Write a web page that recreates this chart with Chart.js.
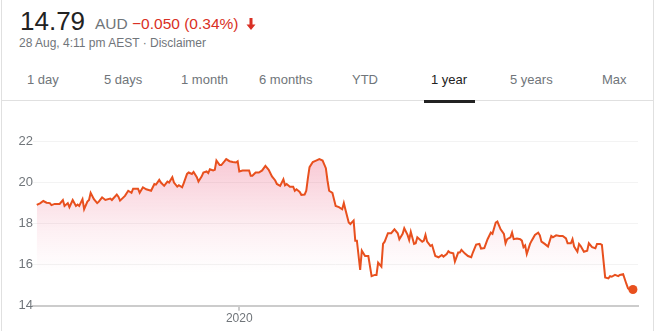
<!DOCTYPE html>
<html>
<head>
<meta charset="utf-8">
<script src="https://cdn.jsdelivr.net/npm/chart.js@4"></script>
<style>
  body { margin: 0; background: #fff; font-family: Arial, "Liberation Sans", sans-serif; }
  #wrap { position: relative; width: 658px; height: 331px; overflow: hidden; }
  .t { position: absolute; white-space: nowrap; }
  .price { left: 20px; top: 8px; font-size: 26px; line-height: 26px; color: #222; }
  .chg { left: 95px; top: 16px; font-size: 15.5px; line-height: 15.5px; color: #70757a; }
  .chg .red { color: #d93025; }
  .date { left: 19px; top: 36.5px; font-size: 12px; line-height: 12px; color: #70757a; }
  .tab { top: 72.5px; font-size: 13px; line-height: 13px; color: #70757a; }
  .tab.on { color: #222; }
  .vline { position: absolute; top: 0; width: 1px; height: 331px; background: #e0e0e0; }
  #sep { position: absolute; left: 2px; top: 100px; width: 651px; height: 1px; background: #e0e0e0; }
  #bar { position: absolute; left: 424px; top: 100px; width: 51px; height: 3px; background: #222; }
  #arrow { position: absolute; left: 245px; top: 18px; }
  canvas { position: absolute; left: 0; top: 110px; }
</style>
</head>
<body>
<div id="wrap">
  <div class="vline" style="left:1px"></div>
  <div class="vline" style="left:653px"></div>
  <div class="t price">14.79</div>
  <div class="t chg">AUD <span class="red">−0.050 (0.34%)</span></div>
  <svg id="arrow" width="12" height="12" viewBox="0 0 12 12">
    <path d="M4.5 0h3v6.5h3L6 12 1.5 6.5h3z" fill="#d93025"/>
  </svg>
  <div class="t date">28 Aug, 4:11 pm AEST · Disclaimer</div>
  <div id="tabs"></div>
  <div id="sep"></div>
  <div id="bar"></div>
  <canvas id="c" width="658" height="221"></canvas>
</div>
<script>
// range tabs
const tabNames = ["1 day", "5 days", "1 month", "6 months", "YTD", "1 year", "5 years", "Max"];
const tabLeft = [27, 104, 181, 259, 352, 431, 510, 602];
const activeTab = "1 year";

// days since 28 Aug 2019, and closing price (AUD)
const days = [
  0, 2, 4, 6, 8, 9, 11, 14, 16, 17, 19, 20, 22, 24, 25, 26, 28, 29, 31, 32,
  33, 35, 37, 38, 40, 42, 45, 46, 49, 50, 51, 54, 56, 58, 59, 62, 63, 65, 67, 70,
  72, 73, 75, 76, 78, 80, 81, 83, 84, 86, 87, 89, 90, 92, 93, 95, 96, 98, 99, 101,
  102, 104, 105, 106, 108, 109, 110, 112, 113, 115, 116, 118, 120, 122, 123, 124, 126, 129, 130, 131,
  132, 134, 136, 138, 140, 142, 144, 146, 147, 149, 151, 152, 153, 155, 157, 158, 159, 161, 162, 164,
  165, 166, 167, 169, 171, 173, 175, 177, 178, 179, 181, 183, 185, 187, 188, 189, 191, 192, 194, 195,
  196, 198, 199, 201, 203, 205, 207, 208, 209, 211, 212, 213, 215, 217, 219, 221, 222, 224, 225, 227,
  228, 229, 231, 232, 233, 236, 237, 238, 239, 241, 242, 244, 246, 248, 249, 251, 252, 253, 255, 256,
  258, 259, 260, 262, 264, 266, 267, 269, 271, 272, 274, 276, 278, 279, 281, 282, 284, 286, 287, 288,
  290, 291, 292, 294, 296, 297, 298, 299, 300, 302, 303, 305, 307, 308, 309, 311, 313, 315, 316, 318,
  320, 322, 324, 325, 327, 328, 329, 331, 332, 333, 335, 337, 338, 340, 342, 343, 345, 346, 348, 350,
  351, 352, 354, 356, 357, 359, 361, 362, 364, 365
];
const prices = [
  18.91, 18.99, 19.10, 19.02, 19.00, 18.90, 18.96, 18.96, 19.15, 18.86, 19.00, 18.80, 19.15, 18.86, 18.93, 18.86, 19.19, 18.70, 19.07, 19.15,
  19.50, 19.19, 19.00, 19.07, 19.28, 19.15, 19.22, 19.15, 19.41, 19.31, 19.12, 19.35, 19.60, 19.50, 19.70, 19.70, 19.50, 19.77, 19.67, 19.60,
  19.93, 19.90, 20.13, 20.00, 19.84, 20.05, 20.00, 20.26, 20.00, 19.80, 19.87, 19.77, 19.97, 20.42, 20.49, 20.42, 20.52, 20.26, 20.05, 20.30,
  20.49, 20.54, 20.46, 20.65, 20.59, 20.62, 21.07, 20.85, 20.85, 21.04, 21.14, 21.04, 21.00, 20.98, 21.04, 20.54, 20.59, 20.59, 20.59, 20.33,
  20.33, 20.49, 20.49, 20.59, 20.81, 20.62, 20.30, 20.10, 19.93, 19.84, 20.16, 19.87, 19.93, 19.80, 19.80, 19.60, 19.67, 19.54, 19.40, 19.41,
  19.60, 20.21, 20.75, 21.00, 21.07, 21.14, 21.07, 20.70, 20.10, 19.60, 19.50, 18.86, 18.80, 18.70, 19.00, 18.67, 18.05, 17.98, 18.15, 17.17,
  17.17, 15.74, 16.68, 16.42, 16.42, 15.44, 15.50, 15.50, 16.10, 15.90, 17.01, 17.12, 17.53, 17.53, 17.72, 17.53, 17.24, 17.50, 17.77, 17.45,
  17.20, 17.60, 17.01, 17.04, 17.33, 17.12, 17.17, 17.45, 17.12, 16.91, 16.96, 16.42, 16.36, 16.47, 16.39, 16.52, 16.65, 16.59, 16.55, 16.15,
  16.59, 16.59, 16.72, 16.55, 16.42, 16.36, 16.59, 16.98, 17.01, 16.78, 16.81, 17.24, 17.56, 17.50, 18.05, 18.10, 17.72, 17.50, 17.04, 17.24,
  17.33, 17.56, 17.24, 17.27, 17.24, 17.17, 16.85, 16.94, 16.52, 17.01, 17.17, 17.45, 17.56, 17.43, 17.12, 17.01, 16.88, 17.40, 17.33, 17.43,
  17.40, 17.40, 17.28, 17.04, 17.04, 17.24, 16.88, 16.63, 17.01, 16.91, 16.63, 16.68, 17.04, 16.85, 16.80, 17.01, 17.01, 16.96, 15.38, 15.33,
  15.44, 15.41, 15.50, 15.44, 15.50, 15.54, 15.06, 14.85, 14.73, 14.79
];

// axis ticks
const yTicks = [14, 16, 18, 20, 22];
const xTickDays = [124];
const xTickLabels = ["2020"];

const tabs = document.getElementById("tabs");
tabNames.forEach((name, i) => {
  const d = document.createElement("div");
  d.className = "t tab" + (name === activeTab ? " on" : "");
  d.style.left = tabLeft[i] + "px";
  d.textContent = name;
  tabs.appendChild(d);
});

const LINE = "#e8501e";
const points = days.map((d, i) => ({ x: d, y: prices[i] }));
const last = points.length - 1;

new Chart(document.getElementById("c"), {
  type: "line",
  data: {
    datasets: [
      {
        data: points,
        borderColor: LINE,
        borderWidth: 2,
        tension: 0,
        fill: "start",
        backgroundColor: (ctx) => {
          const area = ctx.chart.chartArea;
          if (!area) return "rgba(232,72,112,0.2)";
          const g = ctx.chart.ctx.createLinearGradient(0, area.top, 0, area.bottom);
          g.addColorStop(0, "rgba(232,72,112,0.34)");
          g.addColorStop(0.55, "rgba(232,72,112,0.08)");
          g.addColorStop(0.8, "rgba(232,72,112,0)");
          g.addColorStop(1, "rgba(232,72,112,0)");
          return g;
        },
        pointRadius: (ctx) => (ctx.dataIndex === last ? 4.5 : 0),
        pointBackgroundColor: LINE,
        pointBorderWidth: 0,
        pointHoverRadius: 0,
      },
    ],
  },
  options: {
    responsive: false,
    animation: false,
    layout: { padding: { top: 31.5, right: 20, left: 0, bottom: 0 } },
    plugins: { legend: { display: false }, tooltip: { enabled: false } },
    scales: {
      x: {
        type: "linear",
        min: -2.3,
        max: 368.1,
        afterFit: (scale) => {
          scale.height = 25.3;
        },
        afterBuildTicks: (scale) => {
          scale.ticks = xTickDays.map((v) => ({ value: v }));
        },
        ticks: {
          color: "#70757a",
          font: { family: "Arial, 'Liberation Sans'", size: 12 },
          padding: 1,
          maxRotation: 0,
          callback: (v) => xTickLabels[xTickDays.indexOf(v)],
        },
        grid: { drawOnChartArea: false, color: "#cccccc", lineWidth: 2, tickLength: 5 },
        border: { color: "#cccccc", width: 2 },
      },
      y: {
        min: 14,
        max: 22,
        afterFit: (scale) => {
          scale.width = 33;
        },
        afterBuildTicks: (scale) => {
          scale.ticks = yTicks.map((v) => ({ value: v }));
        },
        ticks: {
          color: "#70757a",
          font: { family: "Arial, 'Liberation Sans'", size: 13 },
          padding: 0,
        },
        grid: { color: "#f3f3f3", drawTicks: false },
        border: { display: false },
      },
    },
  },
});
</script>
</body>
</html>
